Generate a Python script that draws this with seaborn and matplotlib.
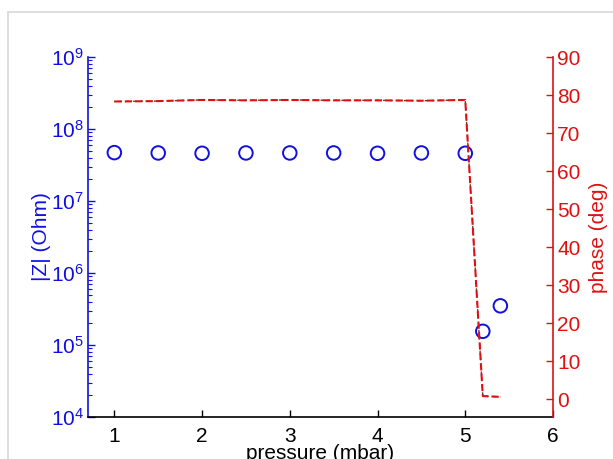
import matplotlib
matplotlib.use("Agg")
import matplotlib.pyplot as plt
from matplotlib.lines import Line2D
from matplotlib.ticker import LogLocator, NullFormatter, FixedLocator
import numpy as np
import pandas as pd
import seaborn as sns

# Impedance magnitude and phase versus chamber pressure
pressure = [1.0, 1.5, 2.0, 2.5, 3.0, 3.5, 4.0, 4.5, 5.0, 5.2, 5.4]
impedance = [4.7e7, 4.65e7, 4.6e7, 4.65e7, 4.65e7, 4.65e7, 4.6e7, 4.65e7, 4.6e7, 1.55e5, 3.5e5]
phase = [78.3, 78.4, 78.7, 78.6, 78.7, 78.6, 78.6, 78.5, 78.7, 0.8, 0.6]

x_ticks = [1, 2, 3, 4, 5, 6]
phase_ticks = [0, 10, 20, 30, 40, 50, 60, 70, 80, 90]

sns.set_style("ticks")
plt.rcParams["font.family"] = ["Liberation Sans", "DejaVu Sans"]
plt.rcParams["mathtext.fontset"] = "custom"
plt.rcParams["mathtext.rm"] = "Liberation Sans"
plt.rcParams["mathtext.it"] = "Liberation Sans:italic"

BLUE = "#1010e0"
RED = "#e01010"

df = pd.DataFrame({"pressure": pressure, "impedance": impedance, "phase": phase})

fig = plt.figure(figsize=(6.13, 4.59), dpi=100)
ax = fig.add_axes([0.1436, 0.0915, 0.7585, 0.7843])
ax2 = ax.twinx()

# |Z| as open circles on a log axis
sns.scatterplot(data=df, x="pressure", y="impedance", ax=ax, marker="o",
                s=95, facecolors="none", edgecolor=BLUE, linewidth=1.4,
                zorder=3, legend=False)
ax.set_yscale("log")
ax.set_ylim(1e4, 1e9)
ax.set_xlim(0.7, 6)
ax.xaxis.set_major_locator(FixedLocator(x_ticks))
ax.yaxis.set_major_locator(LogLocator(base=10, numticks=10))
ax.yaxis.set_minor_locator(LogLocator(base=10, subs=np.arange(2, 10), numticks=10))
ax.yaxis.set_minor_formatter(NullFormatter())

# Phase as dashed line on the right axis
sns.lineplot(data=df, x="pressure", y="phase", ax=ax2, color="#6a3a3a",
             linewidth=1.0, linestyle=(1.5, (2, 3)), zorder=2)
sns.lineplot(data=df, x="pressure", y="phase", ax=ax2, color=RED,
             linewidth=1.5, linestyle=(0, (3.5, 1.5)), zorder=3)
ax2.set_ylim(-4.7, 90)
ax2.yaxis.set_major_locator(FixedLocator(phase_ticks))

# Spines and ticks
for a in (ax, ax2):
    a.spines["top"].set_visible(False)
ax.spines["right"].set_visible(False)
ax2.spines["left"].set_visible(False)
ax2.spines["bottom"].set_visible(False)
ax.spines["left"].set_color(BLUE)
ax.spines["bottom"].set_color("black")
ax2.spines["right"].set_color(RED)
for s in (ax.spines["left"], ax.spines["bottom"], ax2.spines["right"]):
    s.set_linewidth(1.2)

ax.tick_params(axis="x", direction="in", length=5, width=1, colors="black",
               labelsize=15, pad=7)
ax.tick_params(axis="y", which="major", direction="in", length=5, width=1,
               colors=BLUE, labelsize=15, pad=3)
ax.tick_params(axis="y", which="minor", direction="in", length=3, width=0.8,
               colors=BLUE)
ax2.tick_params(axis="y", direction="in", length=5, width=1, colors=RED,
                labelsize=15, pad=3)

ax.set_xlabel("pressure (mbar)", fontsize=15, color="black", labelpad=-1)
ax.set_ylabel("|Z| (Ohm)", fontsize=15, color=BLUE, labelpad=0)
ax2.set_ylabel("phase (deg)", fontsize=15, color=RED, labelpad=6)

# Light frame around the figure
frame_kw = dict(color="#d8d8d8", linewidth=1.2, transform=fig.transFigure)
fig.add_artist(Line2D([8 / 613, 8 / 613], [0, 1 - 12 / 459], **frame_kw))
fig.add_artist(Line2D([8 / 613, 1], [1 - 12 / 459, 1 - 12 / 459], **frame_kw))

fig.savefig("out.png", dpi=100)
